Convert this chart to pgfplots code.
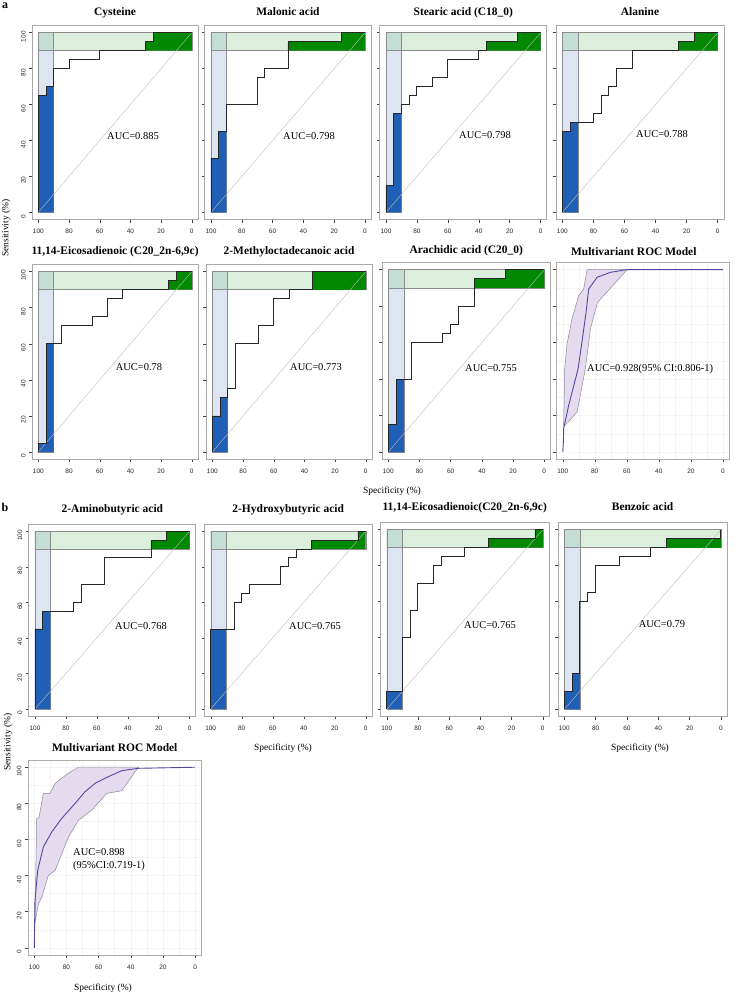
\documentclass[border=0pt]{standalone}
\usepackage{fontspec}
\setmainfont{Liberation Serif}
\setsansfont{Liberation Sans}
\usepackage{pgfplots}
\pgfplotsset{compat=1.18}

\definecolor{lblue}{HTML}{DDE5F2}
\definecolor{lgreen}{HTML}{DCEFDC}
\definecolor{overlap}{HTML}{C4DDD5}
\definecolor{dblue}{HTML}{1F5FB5}
\definecolor{dgreen}{HTML}{008800}
\definecolor{rectgray}{HTML}{8C8C8C}
\definecolor{framegray}{HTML}{A8A8A8}
\definecolor{diagc}{HTML}{BDBDBD}
\definecolor{mframe}{HTML}{B3ACA5}
\definecolor{mfill}{HTML}{E4DBEE}
\definecolor{mband}{HTML}{8E879A}
\definecolor{mline}{HTML}{5546A0}
\definecolor{gridc}{HTML}{F3F3F3}

\newcommand{\titlefont}{\fontsize{11.5}{12}\selectfont\bfseries}
\newcommand{\auc}{\fontsize{10.5}{12}\selectfont}
\newcommand{\lab}{\fontsize{9.5}{11}\selectfont}
\newcommand{\ticklab}{\fontsize{6.5}{7}\selectfont\sffamily}

\pgfplotsset{
  rocbase/.style={
    scale only axis, xmin=-4, xmax=104, ymin=-4, ymax=104, x dir=reverse,
    xtick={0,20,40,60,80,100}, ytick={0,20,40,60,80,100},
    axis line style={draw=framegray, line width=0.7bp},
    tick style={draw=black!75, line width=0.4bp},
    tick align=outside, major tick length=3bp,
    xtick pos=left, ytick pos=left,
    /pgf/number format/assume math mode=true,
    ticklabel style={font=\ticklab, text=black!85},
    xticklabel style={yshift=-3bp},
    yticklabel style={rotate=90, anchor=south, xshift=-4bp},
    title style={at={(0.5,1)}, anchor=base, font=\titlefont},
  },
}

% #1 L, #2 B, #3 W, #4 H, #5 title, #6 curve, #7 blue fill, #8 green fill, #9 extra options
\newcommand{\roc}[9]{%
\begin{axis}[rocbase, at={(#1bp,-#2bp)}, anchor=south west, width=#3bp, height=#4bp, title={#5}, #9]
\addplot[fill=lblue, draw=rectgray, line width=0.4bp] coordinates {(100,0)(90,0)(90,100)(100,100)(100,0)};
\addplot[fill=lgreen, draw=rectgray, line width=0.4bp] coordinates {(100,90)(0,90)(0,100)(100,100)(100,90)};
\addplot[fill=overlap, draw=rectgray, line width=0.4bp] coordinates {(100,90)(90,90)(90,100)(100,100)(100,90)};
\addplot[fill=dblue, draw=none] coordinates {#7};
\addplot[fill=dgreen, draw=none] coordinates {#8};
\addplot[draw=diagc, line width=0.4bp] coordinates {(100,0)(0,100)};
\addplot[draw=black!85, line width=0.9bp] coordinates {#6};
\end{axis}}

% #1 L, #2 B, #3 W, #4 H, #5 title, #6 curve, #7 band, #8 extra options
\newcommand{\multi}[8]{%
\begin{axis}[rocbase, at={(#1bp,-#2bp)}, anchor=south west, width=#3bp, height=#4bp, title={#5},
  axis line style={draw=mframe, line width=0.7bp}, grid=both, minor tick num=1, minor tick length=0pt,
  major grid style={draw=gridc, line width=0.4bp}, minor grid style={draw=gridc, line width=0.4bp}, #8]
\addplot[fill=mfill, draw=mband, line width=0.5bp] coordinates {#7};
\addplot[draw=mline, line width=0.9bp] coordinates {#6};
\end{axis}}

\begin{document}
\begin{tikzpicture}
\useasboundingbox (0,0) rectangle (736bp,-994bp);

% ---------------- panel a, row 1 ----------------
\roc{32.2}{219.5}{165.7}{194}{Cysteine}
{(100,0)(100,65)(95,65)(95,70)(90,70)(90,80)(80,80)(80,85)(60,85)(60,90)(30,90)(30,95)(25,95)(25,100)(0,100)}
{(100,0)(100,65)(95,65)(95,70)(90,70)(90,0)}
{(30,90)(30,95)(25,95)(25,100)(0,100)(0,90)}
{title style={yshift=4bp}}

\roc{204.8}{219.5}{166.3}{194}{Malonic acid}
{(100,0)(100,30)(95,30)(95,45)(90,45)(90,60)(70,60)(70,75)(65,75)(65,80)(50,80)(50,95)(15,95)(15,100)(0,100)}
{(100,0)(100,30)(95,30)(95,45)(90,45)(90,0)}
{(50,90)(50,95)(15,95)(15,100)(0,100)(0,90)}
{title style={yshift=4bp}, yticklabels={}}

\roc{379.8}{219.5}{167}{194}{Stearic acid (C18\_0)}
{(100,0)(100,15)(95,15)(95,55)(90,55)(90,60)(85,60)(85,65)(80,65)(80,70)(70,70)(70,75)(60,75)(60,85)(40,85)(40,90)(35,90)(35,95)(15,95)(15,100)(0,100)}
{(100,0)(100,15)(95,15)(95,55)(90,55)(90,0)}
{(35,90)(35,95)(15,95)(15,100)(0,100)(0,90)}
{title style={yshift=4bp}, yticklabels={}}

\roc{556.1}{219.5}{167.8}{194}{Alanine}
{(100,0)(100,45)(95,45)(95,50)(80,50)(80,55)(75,55)(75,65)(70,65)(70,70)(65,70)(65,80)(55,80)(55,90)(25,90)(25,95)(15,95)(15,100)(0,100)}
{(100,0)(100,45)(95,45)(95,50)(90,50)(90,0)}
{(25,90)(25,95)(15,95)(15,100)(0,100)(0,90)}
{title style={yshift=4bp}, yticklabels={}}

% ---------------- panel a, row 2 ----------------
\roc{32.2}{459.3}{165.7}{195}{11,14-Eicosadienoic (C20\_2n-6,9c)}
{(100,0)(100,5)(95,5)(95,60)(85,60)(85,70)(65,70)(65,75)(55,75)(55,85)(45,85)(45,90)(15,90)(15,95)(10,95)(10,100)(0,100)}
{(100,0)(100,5)(95,5)(95,60)(90,60)(90,0)}
{(15,90)(15,95)(10,95)(10,100)(0,100)(0,90)}
{title style={yshift=4bp}}

\roc{206.2}{459.3}{165.7}{195}{2-Methyloctadecanoic acid}
{(100,0)(100,20)(95,20)(95,30)(90,30)(90,35)(85,35)(85,60)(70,60)(70,70)(60,70)(60,85)(50,85)(50,90)(35,90)(35,100)(0,100)}
{(100,0)(100,20)(95,20)(95,30)(90,30)(90,0)}
{(35,90)(35,100)(0,100)(0,90)}
{title style={yshift=4bp}, yticklabels={}}

\roc{382}{459.3}{168.5}{197}{Arachidic acid (C20\_0)}
{(100,0)(100,15)(95,15)(95,40)(85,40)(85,60)(65,60)(65,65)(60,65)(60,70)(55,70)(55,80)(45,80)(45,95)(25,95)(25,100)(0,100)}
{(100,0)(100,15)(95,15)(95,40)(90,40)(90,0)}
{(45,90)(45,95)(25,95)(25,100)(0,100)(0,90)}
{title style={yshift=3bp}, yticklabels={}}

\multi{556.3}{459.3}{173}{197}{Multivariant ROC Model}
{(100,0)(99.6,5)(99.4,12.8)(96.3,25.5)(90.4,45.6)(88.3,58.4)(85.4,76.6)(83.8,89.4)(78.5,95.8)(70.2,98.5)(59.8,100)(0,100)}
{(99.4,14)(98.75,45.6)(97.3,59.3)(94.2,73)(90,85.8)(86.9,89.4)(84.8,100)(59.8,100)(69,91)(78.3,82)(82.7,67.5)(85.8,46)(91,22)(96,17)(99.4,14)}
{title style={yshift=1bp, xshift=-9bp}, yticklabels={}}

% ---------------- panel b ----------------
\roc{28.8}{716.1}{167}{192}{2-Aminobutyric acid}
{(100,0)(100,45)(95,45)(95,55)(75,55)(75,60)(70,60)(70,70)(55,70)(55,85)(25,85)(25,95)(15,95)(15,100)(0,100)}
{(100,0)(100,45)(95,45)(95,55)(90,55)(90,0)}
{(25,90)(25,95)(15,95)(15,100)(0,100)(0,90)}
{title style={yshift=6bp}}

\roc{204.5}{716.1}{167.4}{192}{2-Hydroxybutyric acid}
{(100,0)(100,45)(85,45)(85,60)(80,60)(80,65)(75,65)(75,70)(55,70)(55,80)(50,80)(50,85)(45,85)(45,90)(35,90)(35,95)(5,95)(5,100)(0,100)}
{(100,0)(100,45)(90,45)(90,0)}
{(35,90)(35,95)(5,95)(5,100)(0,100)(0,90)}
{title style={yshift=6bp}, yticklabels={}}

\roc{380.5}{716.5}{168.5}{194}{11,14-Eicosadienoic(C20\_2n-6,9c)}
{(100,0)(100,10)(90,10)(90,40)(85,40)(85,55)(80,55)(80,70)(70,70)(70,80)(65,80)(65,85)(50,85)(50,90)(35,90)(35,95)(5,95)(5,100)(0,100)}
{(100,0)(100,10)(90,10)(90,0)}
{(35,90)(35,95)(5,95)(5,100)(0,100)(0,90)}
{title style={yshift=6bp}, yticklabels={}}

\roc{558}{716.5}{169.2}{194}{Benzoic acid}
{(100,0)(100,10)(95,10)(95,20)(90,20)(90,60)(85,60)(85,65)(80,65)(80,80)(65,80)(65,85)(45,85)(45,90)(35,90)(35,95)(0,95)(0,100)}
{(100,0)(100,10)(95,10)(95,20)(90,20)(90,0)}
{(35,90)(35,95)(0,95)(0,90)}
{title style={yshift=6bp}, yticklabels={}}

\multi{27.9}{955}{173.6}{195}{Multivariant ROC Model}
{(100,0)(99.8,14)(99.6,26)(97.9,42.8)(94.4,55.8)(89.2,64.1)(83,71.6)(74.7,79.9)(68.5,86.4)(62.2,91.1)(53.9,94.8)(45.6,98.1)(35.3,99.4)(0,100)}
{(99.6,13.9)(98.5,71.6)(97.1,72.1)(94.4,85.5)(90.2,85.5)(87.1,91.1)(78.8,96.7)(72.6,100)(35.3,100)(45.6,87)(55,85.5)(64.3,76.2)(72.6,70.6)(78.8,61.3)(87.1,42.8)(91.3,40)(95.4,27.9)(97.5,24.2)(99.6,13.9)}
{title style={yshift=3bp}}

% ---------------- texts ----------------
\node[font=\fontsize{12}{12}\selectfont\bfseries] at (5bp,-6bp) {a};
\node[font=\fontsize{12}{12}\selectfont\bfseries] at (5bp,-507bp) {b};

\node[font=\auc] at (133bp,-136bp) {AUC=0.885};
\node[font=\auc] at (309bp,-136bp) {AUC=0.798};
\node[font=\auc] at (485bp,-135bp) {AUC=0.798};
\node[font=\auc] at (662bp,-134bp) {AUC=0.788};
\node[font=\auc] at (139bp,-367bp) {AUC=0.78};
\node[font=\auc] at (316bp,-367bp) {AUC=0.773};
\node[font=\auc] at (491bp,-368bp) {AUC=0.755};
\node[font=\auc, anchor=west, inner sep=0pt] at (587bp,-369bp) {AUC=0.928(95\% CI:0.806-1)};
\node[font=\auc] at (141bp,-626bp) {AUC=0.768};
\node[font=\auc] at (315bp,-626bp) {AUC=0.765};
\node[font=\auc] at (490bp,-625bp) {AUC=0.765};
\node[font=\auc] at (662bp,-624bp) {AUC=0.79};
\node[font=\auc, anchor=west, inner sep=0pt] at (73bp,-852bp) {AUC=0.898};
\node[font=\auc, anchor=west, inner sep=0pt] at (73bp,-866bp) {(95\%CI:0.719-1)};

\node[font=\lab, rotate=90] at (6bp,-228bp) {Sensitivity (\%)};
\node[font=\lab, rotate=90] at (8bp,-742bp) {Sensitivity (\%)};
\node[font=\lab] at (392bp,-491bp) {Specificity (\%)};
\node[font=\lab] at (283bp,-748bp) {Specificity (\%)};
\node[font=\lab] at (640bp,-748bp) {Specificity (\%)};
\node[font=\lab] at (103bp,-988bp) {Specificity (\%)};
\end{tikzpicture}
\end{document}
